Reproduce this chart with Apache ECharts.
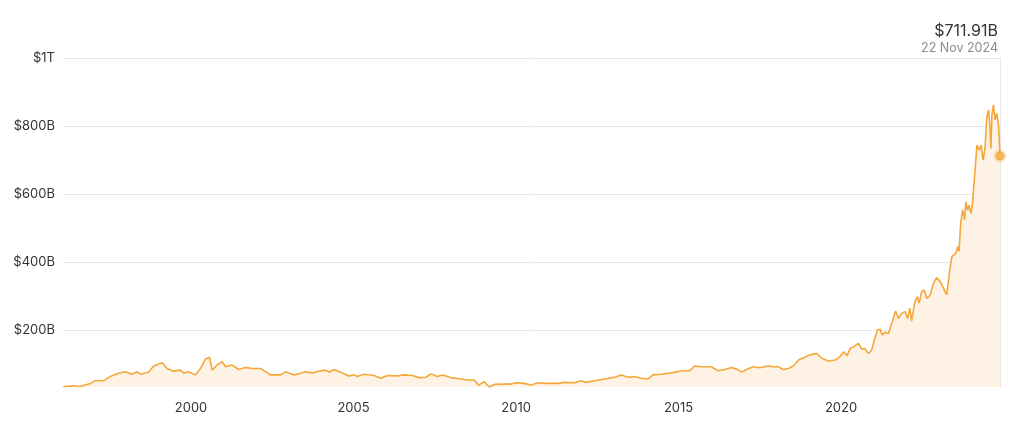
<!DOCTYPE html>
<html>
<head>
<meta charset="utf-8">
<script src="https://cdn.jsdelivr.net/npm/echarts@6/dist/echarts.min.js"></script>
<style>
html,body{margin:0;padding:0;background:#fff;}
#chart{width:1024px;height:432px;}
</style>
</head>
<body>
<div id="chart"></div>
<script>
// Decimal years and market cap (billions USD)
const years = [
1996.07,1996.38,1996.59,1996.90,1997.05,1997.31,1997.51,1997.77,1997.97,1998.18,1998.34,1998.44,1998.69,1998.85,
1999.11,1999.26,1999.46,1999.67,1999.77,1999.93,2000.13,2000.29,2000.44,2000.57,2000.65,2000.80,2000.96,
2001.06,2001.26,2001.47,2001.67,2001.88,2002.14,2002.44,2002.75,2002.91,2003.16,2003.37,2003.52,2003.73,2003.93,
2004.14,2004.24,2004.40,2004.60,2004.86,2005.01,2005.12,2005.32,2005.63,2005.84,2006.04,2006.35,2006.55,2006.81,
2007.02,2007.22,2007.38,2007.58,2007.74,2007.99,2008.30,2008.51,2008.71,2008.85,2009.02,2009.17,2009.33,2009.64,
2009.84,2010.00,2010.25,2010.46,2010.67,2010.97,2011.28,2011.49,2011.80,2012.00,2012.16,2012.41,2012.72,2013.03,
2013.24,2013.44,2013.64,2013.85,2014.06,2014.21,2014.47,2014.78,2015.09,2015.34,2015.49,2015.70,2016.01,2016.22,
2016.42,2016.63,2016.79,2016.94,2017.09,2017.30,2017.50,2017.76,2017.91,2018.07,2018.22,2018.38,2018.53,2018.69,
2018.89,2019.00,2019.15,2019.25,2019.41,2019.61,2019.82,2019.97,2020.08,2020.18,2020.28,2020.39,2020.54,2020.64,
2020.73,2020.84,2020.94,2021.04,2021.12,2021.21,2021.26,2021.35,2021.46,2021.56,2021.68,2021.76,2021.86,2021.97,
2022.05,2022.12,2022.17,2022.27,2022.35,2022.40,2022.48,2022.56,2022.64,2022.74,2022.84,2022.94,2023.05,2023.15,
2023.25,2023.35,2023.41,2023.53,2023.59,2023.63,2023.68,2023.74,2023.80,2023.84,2023.89,2023.94,2023.99,2024.04,
2024.07,2024.12,2024.18,2024.25,2024.31,2024.37,2024.43,2024.48,2024.54,2024.59,2024.61,2024.64,2024.69,2024.74,
2024.79,2024.85,2024.89
];
const marketCap = [
33,36,34,43,51,51,63,73,77,70,77,70,76,94,
104,87,79,82,73,77,68,87,114,120,82,97,107,
92,97,84,90,87,87,68,68,77,68,73,77,74,79,
82,76,84,76,65,68,63,70,66,58,66,65,68,66,
60,61,71,63,68,60,56,53,53,38,48,32.4,40,41,
41,45,43,38,45,43,43,46,45,51,46,51,56,61,
68,61,63,58,56,68,70,74,80,80,94,92,92,80,
84,90,85,76,84,92,89,95,92,92,84,87,94,112,
120,126,129,131,117,109,112,122,136,124,146,151,161,143,
146,131,141,176,200,202,185,193,190,220,256,234,249,254,
234,264,226,283,298,279,313,318,293,303,337,354,342,323,
303,381,416,426,445,432,514,553,524,577,553,568,543,568,
607,666,744,729,744,700,734,823,847,783,734,832,862,818,
837,798,711.91
];
const yTicks = [200, 400, 600, 800, 1000];
const xTicks = [2000, 2005, 2010, 2015, 2020];
const lastDateLabel = '22 Nov 2024';

const lineColor = '#f5a73a';
const seriesData = years.map((y, i) => [y, marketCap[i]]);
const lastIdx = years.length - 1;
const fontFamily = 'Inter, "Noto Sans", sans-serif';

const chart = echarts.init(document.getElementById('chart'), null, {renderer: 'canvas'});
chart.setOption({
  animation: false,
  graphic: [{
    type: 'text',
    right: 26,
    top: 23,
    style: {
      text: '$' + marketCap[lastIdx].toFixed(2) + 'B',
      fontFamily, fontSize: 16, fill: '#333'
    }
  }, {
    type: 'text',
    right: 26,
    top: 42,
    style: {
      text: lastDateLabel,
      fontFamily, fontSize: 12.5, fill: '#8c8c8c'
    }
  }],
  grid: {left: 63, right: 24, top: 58, bottom: 45},
  xAxis: {
    type: 'value',
    min: 1996.06,
    max: 2024.89,
    axisLine: {show: false},
    axisTick: {show: false, customValues: xTicks},
    splitLine: {show: false},
    axisLabel: {
      customValues: xTicks,
      formatter: v => String(Math.round(v)),
      color: '#333', fontFamily, fontSize: 13, margin: 15
    }
  },
  yAxis: [{
    type: 'value',
    min: 'dataMin',
    max: 1000,
    axisLine: {show: false},
    axisTick: {show: false, customValues: yTicks},
    axisLabel: {
      customValues: yTicks,
      formatter: v => v >= 1000 ? '$1T' : '$' + v + 'B',
      color: '#333', fontFamily, fontSize: 13, margin: 8
    },
    splitLine: {show: true, lineStyle: {color: '#e8e8e8', width: 1}}
  }, {
    type: 'value',
    position: 'right',
    min: 0, max: 1,
    axisLine: {show: true, lineStyle: {color: '#e8e8e8', width: 1}},
    axisTick: {show: false},
    axisLabel: {show: false},
    splitLine: {show: false}
  }],
  series: [{
    type: 'line',
    data: seriesData,
    showSymbol: false,
    symbol: 'none',
    lineStyle: {color: lineColor, width: 1.6},
    areaStyle: {color: '#fdf2e3', origin: 'start', opacity: 1},
    z: 2
  }, {
    type: 'scatter',
    data: [seriesData[lastIdx]],
    symbolSize: 9,
    itemStyle: {color: lineColor, borderColor: 'rgba(245,167,58,0.35)', borderWidth: 4},
    z: 3
  }]
});
</script>
</body>
</html>
